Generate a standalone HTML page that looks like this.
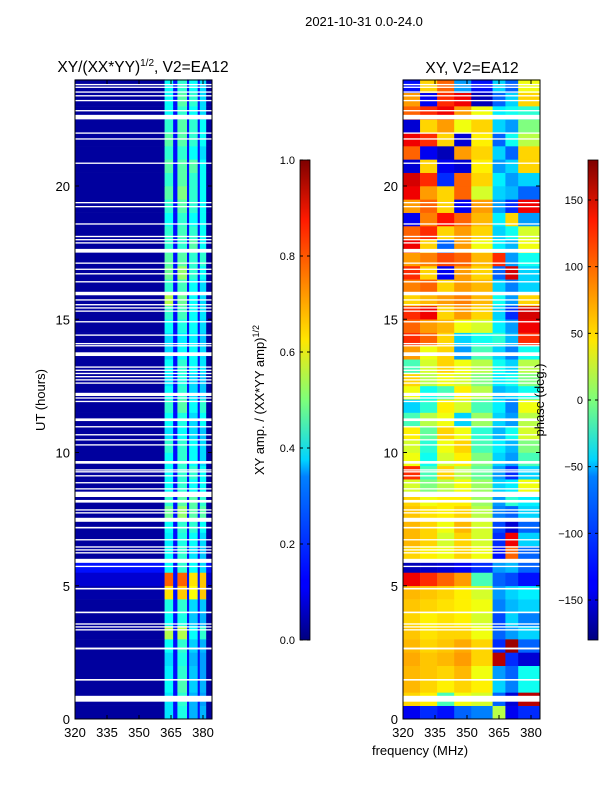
<!DOCTYPE html>
<html><head><meta charset="utf-8"><style>
html,body{margin:0;padding:0;background:#fff;}
svg{display:block;font-family:"Liberation Sans",sans-serif;}
</style></head><body>
<svg id="fig" width="600" height="800" viewBox="0 0 600 800">
<defs>
<linearGradient id="jet" x1="0" y1="1" x2="0" y2="0">
<stop offset="0" stop-color="#00007f"/><stop offset="0.11" stop-color="#0000ff"/><stop offset="0.125" stop-color="#0000ff"/><stop offset="0.34" stop-color="#0080ff"/><stop offset="0.375" stop-color="#00d4ff"/><stop offset="0.5" stop-color="#7dff7a"/><stop offset="0.625" stop-color="#ffe600"/><stop offset="0.75" stop-color="#ff8000"/><stop offset="0.875" stop-color="#ff1a00"/><stop offset="1" stop-color="#7f0000"/>
</linearGradient>
</defs>
<text x="364" y="26" font-size="13" text-anchor="middle">2021-10-31 0.0-24.0</text>
<text x="143" y="72" font-size="15.5" text-anchor="middle">XY/(XX*YY)<tspan font-size="10" dy="-6">1/2</tspan><tspan dy="6">, V2=EA12</tspan></text>
<text x="472" y="73" font-size="15.5" text-anchor="middle">XY, V2=EA12</text>
<g id="ampPlot"></g>
<g id="phPlot"></g>
<g id="axes"></g>
<text transform="translate(45,400) rotate(-90)" font-size="13" text-anchor="middle">UT (hours)</text>
<text x="420" y="755" font-size="13" text-anchor="middle">frequency (MHz)</text>
<rect x="300" y="160" width="10" height="480" fill="url(#jet)" stroke="#000" stroke-width="0.8"/>
<rect x="588" y="160" width="10" height="480" fill="url(#jet)" stroke="#000" stroke-width="0.8"/>
<g id="cbticks"></g>
<text transform="translate(264,400) rotate(-90)" font-size="13" text-anchor="middle">XY amp. / (XX*YY amp)<tspan font-size="9" dy="-5">1/2</tspan></text>
<text transform="translate(544,400) rotate(-90)" font-size="13" text-anchor="middle">phase (deg.)</text>
</svg>
<script>
const hourTicks=[0,5,10,15,20];
const freqTicks=[320,335,350,365,380];
const ampTicks=[0.0,0.2,0.4,0.6,0.8,1.0];
const phaseTicks=[-150,-100,-50,0,50,100,150];
const ampColEdges=[320,362,366,368,372.5,373.5,377.5,378.5,381.5,384.2];
const ampGapValue=0.14;
// each row (0.5 h from 0 UT): background, band1..band4
const ampRows=[
[0.03,0.35,0.4,0.3,0.3],[0.03,0.35,0.42,0.3,0.28],[0.03,0.38,0.45,0.33,0.3],[0.03,0.36,0.42,0.32,0.28],
[0.03,0.34,0.4,0.3,0.28],[0.03,0.38,0.42,0.33,0.3],[0.03,0.55,0.55,0.38,0.42],[0.03,0.38,0.4,0.32,0.3],
[0.03,0.4,0.42,0.34,0.32],[0.04,0.65,0.68,0.62,0.68],[0.08,0.78,0.78,0.65,0.68],[0.14,0.38,0.42,0.38,0.34],
[0.03,0.38,0.42,0.35,0.32],[0.03,0.36,0.4,0.38,0.34],[0.03,0.38,0.42,0.42,0.38],[0.03,0.48,0.52,0.46,0.46],
[0.03,0.42,0.46,0.46,0.42],[0.03,0.38,0.42,0.38,0.38],[0.03,0.38,0.42,0.42,0.38],[0.03,0.38,0.42,0.38,0.34],
[0.03,0.42,0.42,0.38,0.34],[0.03,0.35,0.38,0.34,0.32],[0.03,0.38,0.4,0.34,0.38],[0.03,0.42,0.46,0.38,0.42],
[0.03,0.38,0.42,0.34,0.32],[0.03,0.35,0.4,0.34,0.32],[0.03,0.38,0.42,0.38,0.35],[0.03,0.34,0.38,0.38,0.34],
[0.03,0.34,0.36,0.36,0.32],[0.03,0.38,0.4,0.38,0.34],[0.03,0.42,0.44,0.38,0.35],[0.03,0.55,0.48,0.38,0.34],
[0.03,0.42,0.44,0.38,0.34],[0.03,0.48,0.52,0.42,0.38],[0.03,0.46,0.46,0.42,0.42],[0.03,0.42,0.42,0.46,0.38],
[0.03,0.42,0.44,0.42,0.38],[0.03,0.38,0.42,0.38,0.38],[0.03,0.42,0.46,0.42,0.38],[0.03,0.46,0.5,0.42,0.38],
[0.03,0.42,0.46,0.42,0.38],[0.03,0.46,0.46,0.46,0.38],[0.03,0.42,0.42,0.38,0.34],[0.03,0.46,0.46,0.42,0.38],
[0.03,0.42,0.46,0.42,0.38],[0.03,0.38,0.42,0.38,0.34],[0.03,0.38,0.46,0.42,0.34],[0.03,0.38,0.42,0.38,0.34]];
const phColEdges=[320,328,336,344,352,362,368,374,384.2];
const phRows=[
[-140,-120,-130,-100,-90,20,-140,-120],[60,50,-20,40,30,-100,-150,160],[70,60,50,60,50,-60,-90,-40],[70,65,60,70,40,-80,-100,-40],
[75,65,70,80,60,160,-120,-150],[70,60,65,75,60,-120,170,-100],[65,55,60,60,40,-100,-80,-60],[60,50,55,50,30,-110,-60,-90],
[65,60,55,50,40,-90,-70,-60],[70,65,60,50,30,-80,-60,-50],[140,120,100,80,-20,-100,-110,-130],[-160,-155,-150,-140,-120,-80,-70,-100],
[60,50,40,60,40,-130,100,-100],[70,60,30,60,30,-120,140,-60],[70,60,40,70,30,-110,-150,-100],[65,55,50,60,20,-90,-100,-60],
[60,40,50,50,10,-80,-30,-50],[30,0,20,40,10,-60,-50,40],[120,-20,60,20,-10,-80,-120,-60],[40,-40,30,50,0,-60,-80,-20],
[30,-30,40,60,-20,-50,-70,0],[50,-10,60,40,-30,-70,-40,30],[-20,20,40,-60,10,-60,-80,20],[-60,-30,50,30,-20,-50,-90,40],
[40,-40,-20,50,20,-70,-60,-40],[60,20,40,30,0,-50,-40,0],[-20,30,60,40,20,-40,-60,20],[80,40,60,-80,-20,-60,-90,-40],
[120,100,60,-60,-40,-30,-70,120],[100,80,70,40,30,-50,-80,140],[120,140,60,80,60,-60,-120,150],[60,70,80,90,70,-40,-80,60],
[90,100,60,80,70,-60,-90,-60],[120,60,-140,80,60,-100,150,-60],[80,90,110,100,70,120,-80,-40],[140,60,-100,80,40,-50,-70,40],
[100,120,60,80,60,-60,-40,30],[-140,90,130,100,70,-50,60,-80],[80,100,60,-140,80,-80,-120,140],[140,80,60,100,30,-60,-70,-100],
[150,120,-120,100,60,-50,-80,-60],[-150,60,-140,-150,50,-80,-60,60],[100,-140,-160,80,60,-60,-100,60],[140,120,60,-150,50,-100,-40,20],
[-150,60,80,40,60,-60,-80,0],[100,120,140,80,40,-50,-40,-30],[80,-140,120,140,-160,-100,-60,60],[-130,60,100,-80,-130,-60,-100,40]];
const rowHours=0.5;
// flagged (white) intervals: start hour, duration hour
const flagStarts=[0.65,1.44,2.61,3.32,3.43,3.54,3.97,4.86,5.70,5.86,6.21,6.32,6.43,6.70,7.15,7.40,7.71,7.82,8.12,8.33,8.61,8.84,9.10,9.25,9.32,9.58,10.26,10.45,10.64,10.94,11.18,11.89,12.02,12.12,12.58,12.70,12.82,12.94,13.06,13.18,13.62,13.98,14.06,14.38,14.88,15.28,15.40,15.52,15.70,15.90,16.38,16.68,16.85,17.08,17.50,17.84,17.96,18.08,18.55,19.20,19.35,20.83,21.74,21.96,22.50,22.80,23.18,23.36,23.50,23.68,23.78];
const flagDurs=[0.22,0.06,0.07,0.05,0.05,0.05,0.06,0.06,0.05,0.15,0.05,0.05,0.05,0.05,0.06,0.15,0.05,0.05,0.1,0.2,0.05,0.05,0.05,0.05,0.05,0.1,0.05,0.05,0.05,0.05,0.1,0.05,0.05,0.12,0.05,0.05,0.05,0.05,0.05,0.05,0.14,0.05,0.05,0.05,0.05,0.05,0.05,0.05,0.05,0.13,0.05,0.05,0.05,0.05,0.14,0.05,0.05,0.05,0.05,0.05,0.05,0.05,0.05,0.05,0.17,0.05,0.05,0.05,0.05,0.05,0.05];

const NS='http://www.w3.org/2000/svg';
const Y0=719, PXH=26.65;
function yS(h){return Y0-h*PXH;}
function xL(f){return 75+(f-320)*2.1333;}
function xR(f){return 403+(f-320)*2.1333;}
function clip(v){return Math.max(0,Math.min(1,v));}
function jet(x){x=clip(x);const r=clip(1.5-Math.abs(4*x-3)),g=clip(1.5-Math.abs(4*x-2)),b=clip(1.5-Math.abs(4*x-1));
return 'rgb('+Math.round(r*255)+','+Math.round(g*255)+','+Math.round(b*255)+')';}
function rect(p,x,y,w,h,fill){const r=document.createElementNS(NS,'rect');r.setAttribute('x',x);r.setAttribute('y',y);r.setAttribute('width',w);r.setAttribute('height',h);r.setAttribute('fill',fill);p.appendChild(r);return r;}
function line(p,x1,y1,x2,y2){const l=document.createElementNS(NS,'line');l.setAttribute('x1',x1);l.setAttribute('y1',y1);l.setAttribute('x2',x2);l.setAttribute('y2',y2);l.setAttribute('stroke','#000');l.setAttribute('stroke-width','1');p.appendChild(l);return l;}
function text(p,x,y,s,anchor){const t=document.createElementNS(NS,'text');t.setAttribute('x',x);t.setAttribute('y',y);t.setAttribute('font-size','13');t.setAttribute('text-anchor',anchor);t.textContent=s;p.appendChild(t);return t;}

const ap=document.getElementById('ampPlot');
ampRows.forEach((row,i)=>{
  const vals=[row[0],row[1],ampGapValue,row[2],ampGapValue,row[3],ampGapValue,row[4],row[0]];
  const y1=yS((i+1)*rowHours),y2=yS(i*rowHours);
  for(let c=0;c<vals.length;c++){
    const a=xL(ampColEdges[c]),b=xL(ampColEdges[c+1]);
    const r=rect(ap,a,y1,b-a+0.3,y2-y1+0.3,jet(vals[c]));
    
    
  }
});
const pp=document.getElementById('phPlot');
phRows.forEach((row,i)=>{
  const y1=yS((i+1)*rowHours),y2=yS(i*rowHours);
  for(let c=0;c<row.length;c++){
    const a=xR(phColEdges[c]),b=xR(phColEdges[c+1]);
    const r=rect(pp,a,y1,b-a+0.3,y2-y1+0.3,jet((row[c]+180)/360));
    
    
  }
});
flagStarts.forEach((s,i)=>{
  const y1=yS(s+flagDurs[i]),h=flagDurs[i]*PXH;
  const r1=rect(ap,75,y1,137,h,'#fff');
  
  
  const r2=rect(pp,403,y1,137,h,'#fff');
  
  
});
const ax=document.getElementById('axes');
[[75,xL],[403,xR]].forEach(([x0,xf],k)=>{
  const fr=rect(ax,x0,80,137,639,'none');
  fr.setAttribute('stroke','#000');fr.setAttribute('stroke-width','1');
  
  
  hourTicks.forEach(h=>{const y=yS(h);line(ax,x0,y,x0+4,y);line(ax,x0+137,y,x0+133,y);
    const t=text(ax,x0-5,y+5,String(h),'end');
    
    });
  freqTicks.forEach(f=>{const x=xf(f);line(ax,x,719,x,715);line(ax,x,80,x,84);
    const t=text(ax,x,737,String(f),'middle');
    
    });
});
const cb=document.getElementById('cbticks');
ampTicks.forEach(v=>{const y=640-v*480;line(cb,300,y,303,y);line(cb,310,y,307,y);
  const t=text(cb,295,y+4,v.toFixed(1),'end');t.setAttribute('font-size','11');
  
  });
phaseTicks.forEach(v=>{const y=400-v*480/360;line(cb,588,y,591,y);line(cb,598,y,595,y);
  const t=text(cb,583,y+4,v<0?'\u2212'+(-v):String(v),'end');t.setAttribute('font-size','11');
  
  });
</script>
</body></html>
